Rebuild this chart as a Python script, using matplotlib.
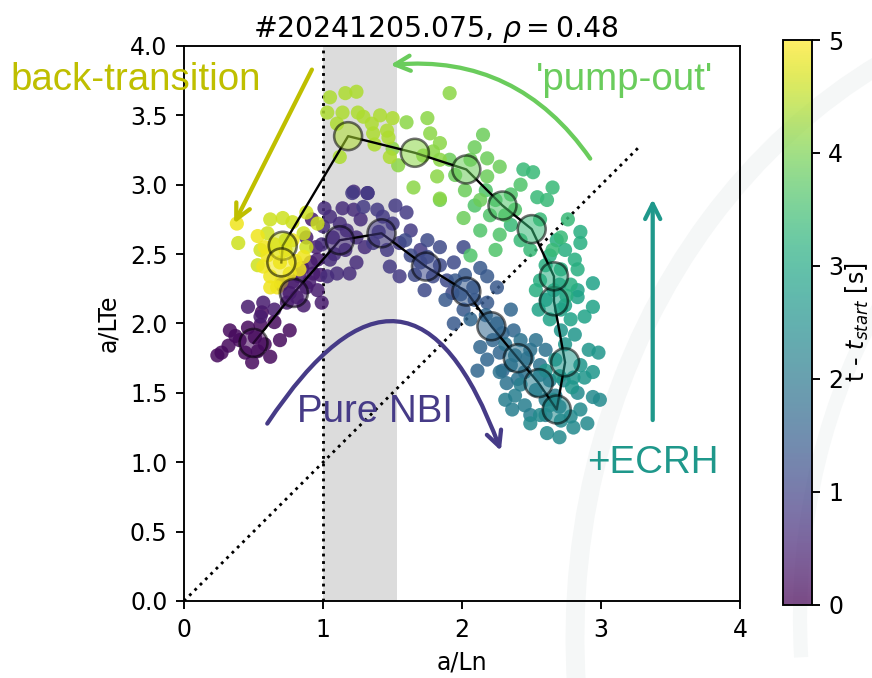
# a/LTe vs a/Ln trajectory, coloured by time since start of the shot

import numpy as np
import matplotlib.pyplot as plt
from matplotlib.patches import Arc

###### DATA ######

# averaged points along the trajectory (one per 0.25 s bin)
mean_t = [0.125, 0.375, 0.625, 0.875, 1.125, 1.375, 1.625, 1.875, 2.125, 2.375,
          2.625, 2.875, 3.125, 3.375, 3.625, 3.875, 4.125, 4.375, 4.625, 4.875]
mean_aln = [0.50, 0.79, 1.12, 1.42, 1.74, 2.03, 2.21, 2.40, 2.55, 2.68,
            2.74, 2.66, 2.66, 2.50, 2.29, 2.03, 1.66, 1.18, 0.71, 0.70]
mean_alte = [1.86, 2.22, 2.60, 2.65, 2.41, 2.23, 1.98, 1.75, 1.57, 1.38,
             1.72, 2.16, 2.34, 2.68, 2.85, 3.11, 3.23, 3.35, 2.56, 2.44]

# raw samples, grouped by time bin: (a/Ln, a/LTe)
bin_points = [
    [(0.24, 1.77), (0.33, 1.95), (0.40, 1.88), (0.44, 1.79), (0.55, 1.99), (0.58, 1.85),
     (0.62, 1.76), (0.69, 1.88), (0.76, 1.95), (0.49, 1.72), (0.37, 1.91), (0.51, 1.90),
     (0.65, 2.01), (0.32, 1.84), (0.46, 1.97), (0.56, 2.08), (0.27, 1.79), (0.53, 1.80)],
    [(0.76, 2.22), (0.88, 2.26), (0.93, 2.36), (0.96, 2.24), (0.91, 2.44), (0.96, 2.46),
     (0.83, 2.34), (0.81, 2.19), (0.86, 2.13), (0.74, 2.15), (0.57, 2.15), (0.55, 2.05),
     (0.65, 2.10), (0.70, 2.28), (0.88, 2.62), (0.95, 2.55), (0.92, 2.75), (0.46, 2.12),
     (0.98, 2.35), (0.90, 2.30), (0.85, 2.40), (0.78, 2.30), (0.99, 2.15)],
    [(1.05, 2.77), (1.14, 2.83), (1.22, 2.82), (1.27, 2.75), (1.17, 2.67), (1.07, 2.62),
     (1.24, 2.62), (1.05, 2.46), (1.10, 2.36), (1.19, 2.36), (1.24, 2.44), (1.03, 2.34),
     (1.16, 2.53), (0.99, 2.57), (1.22, 2.95), (1.32, 2.94), (1.01, 2.83),
     (1.00, 2.70), (1.12, 2.72), (1.30, 2.55), (1.08, 2.50)],
    [(1.21, 2.94), (1.32, 2.94), (1.29, 2.84), (1.39, 2.82), (1.43, 2.77), (1.50, 2.72),
     (1.36, 2.58), (1.46, 2.53), (1.55, 2.58), (1.48, 2.41), (1.55, 2.34), (1.60, 2.80),
     (1.63, 2.67), (1.40, 2.66), (1.52, 2.85), (1.70, 2.53)],
    [(1.75, 2.60), (1.84, 2.55), (2.01, 2.55), (1.75, 2.48), (1.94, 2.44), (1.79, 2.34),
     (1.89, 2.31), (1.70, 2.44), (1.63, 2.49), (1.66, 2.35), (1.84, 2.42), (1.59, 2.60),
     (1.73, 2.24), (1.93, 2.22)],
    [(2.08, 2.26), (2.18, 2.34), (2.25, 2.26), (1.94, 2.00), (2.01, 2.10), (2.18, 2.15),
     (1.95, 2.31), (2.02, 2.35), (1.88, 2.17), (2.09, 2.17), (2.13, 2.40), (1.99, 2.21)],
    [(2.13, 1.83), (2.18, 1.74), (2.11, 1.66), (2.27, 1.79), (2.29, 1.66), (2.29, 1.93),
     (2.37, 1.95), (2.25, 2.00), (2.17, 2.06), (2.06, 2.03), (2.22, 1.88), (2.35, 2.10)],
    [(2.31, 1.85), (2.42, 1.88), (2.49, 1.81), (2.35, 1.70), (2.45, 1.65), (2.32, 1.57),
     (2.56, 1.70), (2.38, 1.77), (2.27, 1.65), (2.53, 1.88), (2.60, 1.81),
     (2.40, 1.60), (2.47, 1.75)],
    [(2.38, 1.48), (2.45, 1.41), (2.53, 1.52), (2.60, 1.45), (2.42, 1.56), (2.63, 1.59),
     (2.56, 1.63), (2.49, 1.34), (2.31, 1.45), (2.67, 1.48), (2.60, 1.34),
     (2.70, 1.40), (2.36, 1.38)],
    [(2.49, 1.28), (2.61, 1.21), (2.80, 1.25), (2.90, 1.28), (2.94, 1.47), (2.99, 1.45),
     (2.78, 1.33), (2.83, 1.50), (2.71, 1.30), (2.63, 1.41), (2.73, 1.59), (2.56, 1.34),
     (2.66, 1.45), (2.85, 1.38), (2.70, 1.18)],
    [(2.91, 1.81), (2.98, 1.79), (2.94, 1.65), (2.88, 1.61), (2.80, 1.61), (2.79, 1.54),
     (2.74, 1.85), (2.67, 1.74), (2.81, 1.92), (2.71, 1.95), (2.60, 1.66),
     (2.85, 1.70), (2.70, 1.62)],
    [(2.94, 2.12), (2.83, 2.19), (2.83, 2.24), (2.94, 2.29), (2.71, 2.10), (2.63, 2.03),
     (2.60, 2.17), (2.78, 2.03), (2.55, 2.10), (2.66, 2.24), (2.74, 2.13),
     (2.88, 2.05), (2.70, 2.28)],
    [(2.85, 2.66), (2.85, 2.58), (2.81, 2.46), (2.83, 2.39), (2.60, 2.42), (2.71, 2.39),
     (2.56, 2.31), (2.63, 2.49), (2.74, 2.53), (2.53, 2.24), (2.78, 2.28),
     (2.68, 2.60), (2.75, 2.20)],
    [(2.44, 3.11), (2.51, 3.09), (2.65, 2.98), (2.61, 2.89), (2.54, 2.91), (2.76, 2.75),
     (2.71, 2.62), (2.65, 2.53), (2.35, 2.71), (2.42, 2.60), (2.56, 2.75), (2.49, 2.53)],
    [(2.17, 2.96), (2.24, 2.89), (2.35, 2.93), (2.20, 2.78), (2.31, 2.78), (2.13, 2.67),
     (2.27, 2.64), (2.38, 2.82), (2.09, 2.85), (2.42, 3.00), (2.24, 2.53), (2.06, 2.49)],
    [(2.15, 3.36), (2.09, 3.27), (2.18, 3.19), (2.27, 3.13), (2.18, 3.06), (2.02, 2.96),
     (1.84, 2.89), (2.01, 2.76), (1.91, 3.18), (2.06, 3.18), (1.95, 3.07), (2.13, 2.89)],
    [(1.91, 3.66), (1.60, 3.45), (1.77, 3.37), (1.84, 3.30), (1.79, 3.24), (1.72, 3.21),
     (1.84, 3.18), (1.82, 3.06), (1.65, 2.98), (1.84, 2.90), (1.50, 3.26), (1.54, 3.14),
     (1.75, 3.48)],
    [(1.05, 3.63), (1.16, 3.66), (1.24, 3.67), (1.03, 3.52), (1.14, 3.52), (1.25, 3.52),
     (1.29, 3.49), (1.41, 3.50), (1.50, 3.48), (1.35, 3.44), (1.36, 3.37), (1.46, 3.39),
     (1.47, 3.34), (1.37, 3.29), (1.48, 3.20), (1.12, 3.20), (1.10, 3.44)],
    [(0.39, 2.58), (0.53, 2.42), (0.62, 2.75), (0.71, 2.76), (0.78, 2.73), (0.88, 2.80),
     (0.96, 2.72), (0.86, 2.65), (0.60, 2.65), (0.88, 2.55), (0.73, 2.60), (0.55, 2.53)],
    [(0.38, 2.72), (0.60, 2.49), (0.57, 2.41), (0.62, 2.34), (0.62, 2.26), (0.67, 2.26),
     (0.76, 2.36), (0.83, 2.39), (0.86, 2.48), (0.78, 2.60), (0.69, 2.44), (0.73, 2.53),
     (0.65, 2.57), (0.53, 2.63), (0.70, 2.30), (0.80, 2.45), (0.58, 2.55)],
]

title = r"#20241205.075, $\rho = 0.48$"
band = (1.0, 1.53)   # grey band in a/Ln

###### PLOT ######

raw_x, raw_y, raw_t = [], [], []
for t, pts in zip(mean_t, bin_points):
    for x, y in pts:
        raw_x.append(x)
        raw_y.append(y)
        raw_t.append(t)

DPI = 170
fig = plt.figure(figsize=(872 / DPI, 678 / DPI), dpi=DPI)
ax = fig.add_axes([0.211, 0.1136, 0.638, 0.8186])
cax = fig.add_axes([0.898, 0.108, 0.033, 0.833])

# faint watermark arcs in the background (pixel coordinates)
fig.patches.append(Arc((1150, 40), 1150, 1300, theta1=95, theta2=185,
                       transform=None, color='#f5f7f7', lw=8, zorder=-5))
fig.patches.append(Arc((1250, 60), 900, 1100, theta1=100, theta2=185,
                       transform=None, color='#f6f8f8', lw=6, zorder=-5))
ax.patch.set_alpha(0)
cax.patch.set_alpha(0)

ax.axvspan(band[0], band[1], color='gainsboro', zorder=0, lw=0)
ax.axvline(1.0, color='k', ls=':', lw=1.2, zorder=1)
ax.plot([0, 3.28], [0, 3.28], color='k', ls=':', lw=1.2, zorder=1)

sc = ax.scatter(raw_x, raw_y, c=raw_t, cmap='viridis', vmin=0, vmax=5,
                s=36, alpha=0.85, edgecolors='none', zorder=2)
ax.plot(mean_aln, mean_alte, color='k', lw=1.0, zorder=3)
ax.scatter(mean_aln, mean_alte, c=mean_t, cmap='viridis', vmin=0, vmax=5,
           s=140, alpha=0.55, edgecolors='k', linewidths=1.1, zorder=4)

ax.set_xlim(0, 4)
ax.set_ylim(0, 4)
ax.set_xticks([0, 1, 2, 3, 4])
ax.set_yticks(np.arange(0, 4.01, 0.5))
ax.set_xlabel("a/Ln")
ax.set_ylabel("a/LTe")
fig.suptitle(title, fontsize=12)

# colorbar drawn from an empty, semi-transparent mappable (washed colours)
cmap_src = ax.scatter([], [], c=[], cmap='viridis', vmin=0, vmax=5, alpha=0.7)
cb = fig.colorbar(cmap_src, cax=cax)
cb.set_ticks([0, 1, 2, 3, 4, 5])
cb.set_label(r"t - $t_{start}$ [s]", labelpad=0)

# annotations
afont = dict(family='Liberation Sans', fontsize=16.3)
arrow_kw = dict(arrowstyle='->', lw=1.8, mutation_scale=16)

ax.annotate("", xy=(0.345, 2.69), xytext=(0.935, 3.86),
            arrowprops=dict(color='y', **arrow_kw))
ax.text(-1.25, 3.755, "back-transition", color='y', ha='left', va='center', **afont)

pump_c = '#6acc5c'
ax.annotate("", xy=(1.45, 3.86), xytext=(2.94, 3.16),
            arrowprops=dict(color=pump_c, connectionstyle='arc3,rad=0.3', **arrow_kw))
ax.text(3.17, 3.755, "'pump-out'", color=pump_c, ha='center', va='center', **afont)

nbi_c = '#463b87'
ax.annotate("", xy=(2.29, 1.05), xytext=(0.58, 1.25),
            arrowprops=dict(color=nbi_c, connectionstyle='arc3,rad=-1.0', **arrow_kw))
ax.text(1.37, 1.36, "Pure NBI", color=nbi_c, ha='center', va='center', **afont)

ecrh_c = '#1f988b'
ax.annotate("", xy=(3.37, 2.93), xytext=(3.37, 1.27),
            arrowprops=dict(color=ecrh_c, **arrow_kw))
ax.text(3.37, 0.995, "+ECRH", color=ecrh_c, ha='center', va='center', **afont)

plt.savefig("out.png", dpi=DPI)
